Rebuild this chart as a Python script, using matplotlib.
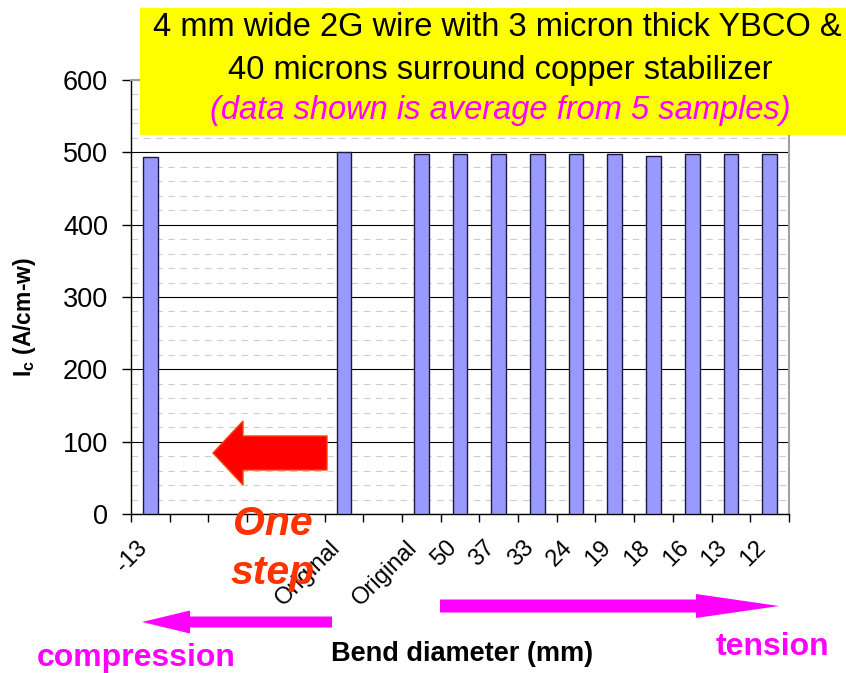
import numpy as np
import matplotlib
matplotlib.use("Agg")
import matplotlib.pyplot as plt
from matplotlib.patches import FancyArrow, Rectangle
from matplotlib.ticker import MultipleLocator, FixedLocator
import matplotlib.transforms as mtransforms

plt.rcParams["font.family"] = ["Liberation Sans", "DejaVu Sans"]
plt.rcParams["mathtext.fontset"] = "custom"
plt.rcParams["mathtext.rm"] = "Liberation Sans"
plt.rcParams["mathtext.bf"] = "Liberation Sans:bold"

# bend diameter categories (blank slots keep the Excel spacing)
categories = ["-13", "", "", "", "", "Original", "", "Original",
              "50", "37", "33", "24", "19", "18", "16", "13", "12"]
# average Ic in A/cm-w, nan where no bar
ic = [493, np.nan, np.nan, np.nan, np.nan, 500, np.nan, 498,
      498, 498, 498, 498, 498, 495, 498, 498, 498]

title_lines = ["4 mm wide 2G wire with 3 micron thick YBCO &",
               "40 microns surround copper stabilizer"]
title_note = "(data shown is average from 5 samples)"

W, H = 846, 673
fig = plt.figure(figsize=(W / 100, H / 100), dpi=100)
fig.patch.set_facecolor("white")

# plot area in pixels: left 131, right 789, top 80, bottom 514
ax = fig.add_axes([131 / W, 1 - 514 / H, 658 / W, 434 / H])
x = np.arange(len(categories))
ax.bar(x, ic, width=0.38, color="#9999FF", edgecolor="#1a1a3a",
       linewidth=1.0, zorder=3)

ax.set_xlim(-0.5, len(categories) - 0.5)
ax.set_ylim(0, 600)
ax.yaxis.set_major_locator(MultipleLocator(100))
ax.yaxis.set_minor_locator(MultipleLocator(20))
ax.grid(axis="y", which="major", color="black", linewidth=0.8, zorder=1)
ax.grid(axis="y", which="minor", color="#cccccc", linestyle=(0, (6, 5)),
        linewidth=0.8, zorder=0)
ax.tick_params(axis="y", which="major", direction="out", length=6.5,
               width=1.0, pad=10, labelsize=19.5)
ax.tick_params(axis="y", which="minor", length=0)

ax.xaxis.set_major_locator(FixedLocator(x))
ax.xaxis.set_minor_locator(FixedLocator(np.arange(-0.5, len(categories), 1.0)))
ax.set_xticklabels(categories, rotation=45, ha="right", va="center",
                   rotation_mode="anchor", fontsize=17)
ax.tick_params(axis="x", which="major", length=0, pad=22)
ax.tick_params(axis="x", which="minor", direction="out", length=6, width=1.0)
shift = mtransforms.ScaledTranslation(-5 / 72, 0, fig.dpi_scale_trans)
for lab in ax.get_xticklabels():
    lab.set_transform(lab.get_transform() + shift)

for side in ["left", "bottom"]:
    ax.spines[side].set_color("black")
    ax.spines[side].set_linewidth(1.0)
for side in ["right", "top"]:
    ax.spines[side].set_color("#a0a0a0")
    ax.spines[side].set_linewidth(1.5)

ax.set_ylabel(r"$\mathbf{I_c}$ (A/cm-w)", fontsize=16.5, fontweight="bold")
ax.yaxis.set_label_coords(-0.141, 0.454)
ax.set_xlabel("Bend diameter (mm)", fontsize=19.5, fontweight="bold")
ax.xaxis.set_label_coords(0.503, -0.322)
ax.xaxis.label.set_va("center")

# overlay in pixel coordinates for the slide annotations
ov = fig.add_axes([0, 0, 1, 1], zorder=5)
ov.set_xlim(0, W)
ov.set_ylim(H, 0)
ov.axis("off")
ov.patch.set_alpha(0)

ov.add_patch(Rectangle((140, 8), W - 140, 127, facecolor="#FFFF00",
                       edgecolor="none"))
ov.text(497, 28, title_lines[0], ha="center", va="center", fontsize=23.5)
ov.text(500, 70, title_lines[1], ha="center", va="center", fontsize=23.5)
ov.text(500, 111, title_note, ha="center", va="center", fontsize=23.5,
        style="italic", color="#FF00FF")

# big red arrow inside plot
ov.add_patch(FancyArrow(327, 453, -114, 0, width=34, head_width=64,
                        head_length=30, length_includes_head=True,
                        facecolor="#FF0000", edgecolor="#FF4000",
                        linewidth=1.0))
ov.text(273, 524, "One", ha="center", va="center", fontsize=29.5,
        fontweight="bold", style="italic", color="#FF3300")
ov.text(273, 573, "step", ha="center", va="center", fontsize=29.5,
        fontweight="bold", style="italic", color="#FF3300")

# compression / tension arrows
ov.add_patch(FancyArrow(332, 622, -190, 0, width=11, head_width=23,
                        head_length=48, length_includes_head=True,
                        facecolor="#FF00FF", edgecolor="none"))
ov.add_patch(FancyArrow(440, 606, 339, 0, width=13, head_width=24,
                        head_length=83, length_includes_head=True,
                        facecolor="#FF00FF", edgecolor="none"))
ov.text(136, 658, "compression", ha="center", va="center", fontsize=23,
        fontweight="bold", color="#FF00FF")
ov.text(772, 647, "tension", ha="center", va="center", fontsize=23,
        fontweight="bold", color="#FF00FF")

fig.savefig("out.png", dpi=100)
